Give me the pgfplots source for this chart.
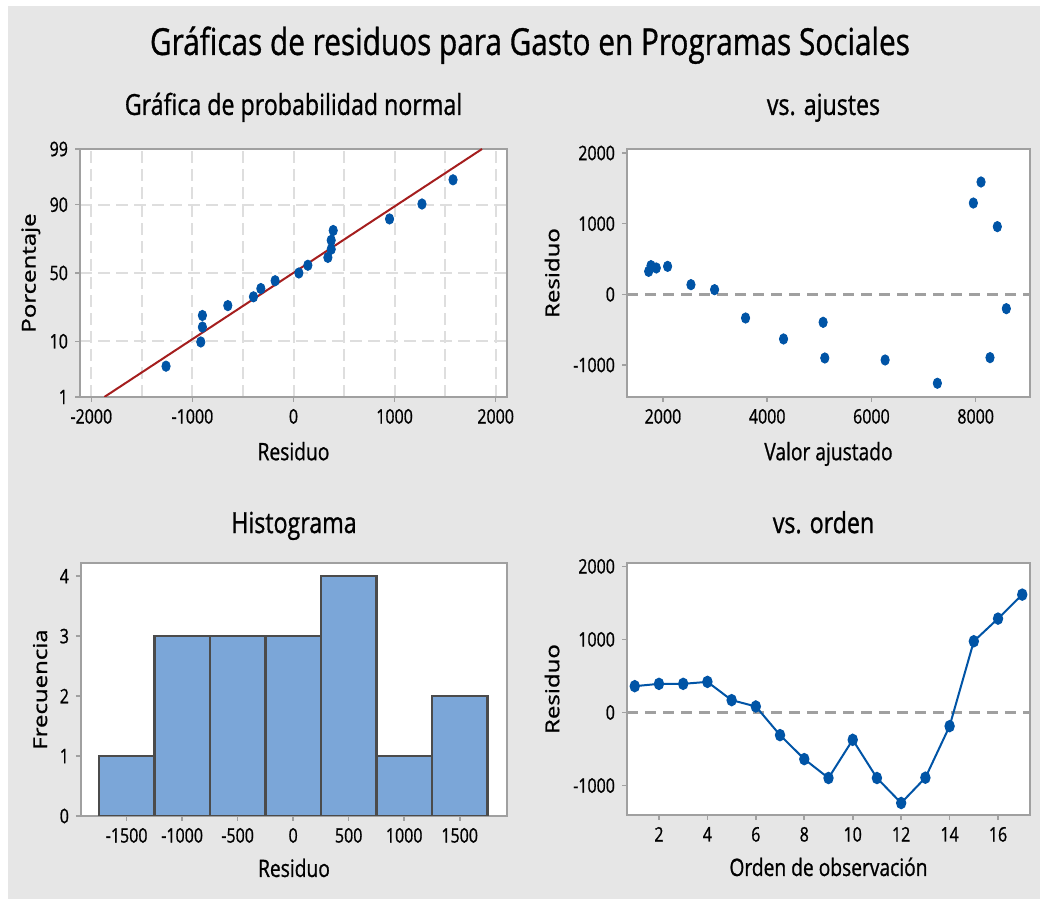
\documentclass[border=0pt]{standalone}
\usepackage{fontspec}
\setmainfont{Open Sans}[FakeStretch=0.8, FakeBold=0.9]
\newfontfamily\ylfont{Open Sans}[FakeBold=0.9]
\usepackage{graphicx}
\usepackage{pgfplots}
\pgfplotsset{compat=1.18}
\definecolor{bg}{RGB}{230,230,230}
\definecolor{frame}{RGB}{160,160,160}
\definecolor{dot}{RGB}{0,84,166}
\definecolor{fitline}{RGB}{165,30,30}
\definecolor{barfill}{RGB}{123,166,216}
\definecolor{baredge}{RGB}{75,75,75}
\definecolor{refline}{RGB}{160,160,160}
\definecolor{gridc}{RGB}{222,222,222}

% y labels: set upright, then squeezed like the rest of the picture
\newcommand{\yl}[1]{\scalebox{1}[0.8]{\ylfont\fontsize{12}{12}\selectfont #1}}

\pgfplotsset{
  mtb/.style={
    scale only axis,
    anchor=south west,
    axis line style={frame, line width=1pt},
    axis background/.style={fill=white},
    tick align=outside,
    xtick pos=bottom, ytick pos=left,
    major tick length=2.5pt,
    minor tick length=0pt,
    tick style={frame, line width=0.8pt},
    every tick label/.append style={font=\fontsize{10}{10}\selectfont, text=black},
    /pgf/number format/assume math mode=true,
    /pgf/number format/1000 sep={},
    xlabel style={font=\fontsize{12}{12}\selectfont, anchor=base},
    ylabel style={anchor=center},
    title style={font=\fontsize{14.5}{15}\selectfont, anchor=base},
  },
  dots/.style={only marks, mark=*, mark size=2.6pt, color=dot,
    mark options={xscale=0.8}},
  zeroline/.style={refline, line width=1.2pt, dash pattern=on 5.5pt off 3.5pt},
}

\begin{document}
\begin{tikzpicture}
\fill[white] (0,0) rectangle (520pt,449.5pt);
\fill[bg] (4pt,0) rectangle (520pt,446.5pt);
\useasboundingbox (0,0) rectangle (520pt,449.5pt);

\node[anchor=base, font=\fontsize{18.6}{19}\selectfont] at (265pt,422pt)
  {Gráficas de residuos para Gasto en Programas Sociales};

% ---- normal probability plot
\begin{axis}[mtb,
  at={(40pt,251pt)}, width=213.5pt, height=124pt,
  xmin=-2112, xmax=2112, ymin=-2.326, ymax=2.326,
  xtick={-2000,-1000,0,1000,2000},
  minor xtick={-1500,-500,500,1500},
  ytick={-2.326,-1.2816,0,1.2816,2.326},
  yticklabels={1,10,50,90,99},
  grid=both,
  major grid style={gridc, line width=1pt, dash pattern=on 6pt off 3pt},
  minor grid style={gridc, line width=1pt, dash pattern=on 6pt off 3pt},
  title={Gráfica de probabilidad normal},
  title style={at={(axis description cs:0.5,1.089)}},
  xlabel={Residuo},
  xlabel style={at={(axis description cs:0.5,-0.255)}},
  ylabel={\yl{Porcentaje}},
  ylabel style={at={(axis description cs:-0.115,0.5)}},
]
\addplot[fitline, line width=1pt] coordinates {(-1871,-2.326) (1865,2.326)};
\addplot[dots] coordinates {
  (-1261,-1.748) (-917,-1.294) (-901,-1.014) (-901,-0.797) (-650,-0.612)
  (-396,-0.447) (-323,-0.292) (-182,-0.145) (53,0) (142,0.145)
  (340,0.292) (373,0.447) (373,0.612) (393,0.797) (950,1.014)
  (1271,1.294) (1578,1.748)};
\end{axis}

% ---- residuals vs fitted values
\begin{axis}[mtb,
  at={(313.5pt,251pt)}, width=201.5pt, height=124pt,
  xmin=1310, xmax=9042, ymin=-1453, ymax=2057,
  xtick={2000,4000,6000,8000},
  ytick={-1000,0,1000,2000},
  title={vs. ajustes},
  title style={at={(axis description cs:0.4876,1.089)}},
  xlabel={Valor ajustado},
  xlabel style={at={(axis description cs:0.5,-0.255)}},
  ylabel={\yl{Residuo}},
  ylabel style={at={(axis description cs:-0.186,0.5)}},
]
\addplot[zeroline] coordinates {(1310,0) (9042,0)};
\addplot[dots] coordinates {
  (1725,325) (1770,406) (1872,373) (2089,396) (2537,137) (2990,66)
  (3585,-335) (4313,-632) (5073,-396) (5105,-901) (6262,-929)
  (7265,-1259) (7955,1292) (8102,1590) (8275,-896) (8415,958) (8588,-203)};
\end{axis}

% ---- histogram
\begin{axis}[mtb,
  at={(40.5pt,41.5pt)}, width=213pt, height=126.5pt,
  xmin=-1911, xmax=1926, ymin=0, ymax=4.22,
  xtick={-1500,-1000,-500,0,500,1000,1500},
  ytick={0,1,2,3,4},
  title={Histograma},
  title style={at={(axis description cs:0.5,1.071)}},
  xlabel={Residuo},
  xlabel style={at={(axis description cs:0.5,-0.241)}},
  ylabel={\yl{Frecuencia}},
  ylabel style={at={(axis description cs:-0.096,0.5)}},
]
\addplot[ybar interval, fill=barfill, draw=baredge, line width=1.2pt] coordinates {
  (-1750,1) (-1250,3) (-750,3) (-250,3) (250,4) (750,1) (1250,2) (1750,2)};
\end{axis}

% ---- residuals vs order
\begin{axis}[mtb,
  at={(313.5pt,42pt)}, width=201.5pt, height=126pt,
  xmin=0.68, xmax=17.32, ymin=-1403, ymax=2046,
  xtick={2,4,...,16},
  ytick={-1000,0,1000,2000},
  title={vs. orden},
  title style={at={(axis description cs:0.4876,1.071)}},
  xlabel={Orden de observación},
  xlabel style={at={(axis description cs:0.5,-0.242)}},
  ylabel={\yl{Residuo}},
  ylabel style={at={(axis description cs:-0.186,0.5)}},
]
\addplot[zeroline] coordinates {(0.68,0) (17.32,0)};
\addplot[dot, line width=1pt, mark=*, mark size=2.6pt, mark options={xscale=0.8}]
  coordinates {
  (1,360) (2,392) (3,392) (4,419) (5,169) (6,82) (7,-310) (8,-638)
  (9,-897) (10,-374) (11,-897) (12,-1239) (13,-893) (14,-187)
  (15,975) (16,1285) (17,1613)};
\end{axis}
\end{tikzpicture}
\end{document}
